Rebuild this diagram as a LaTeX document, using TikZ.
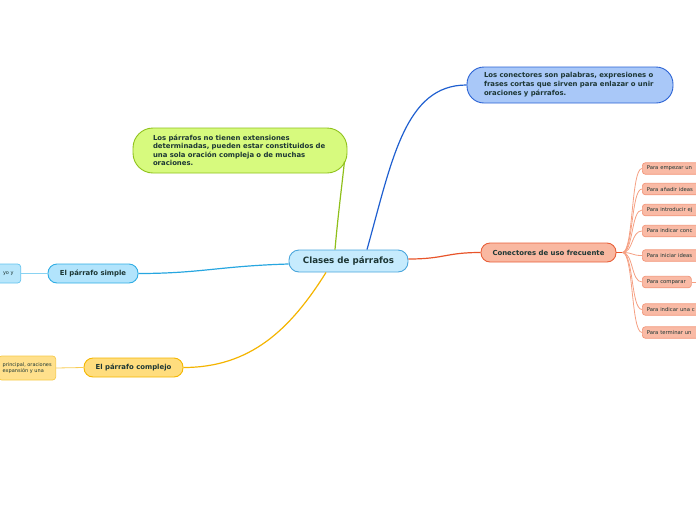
\documentclass[tikz,border=0pt]{standalone}
\usepackage{fontspec}
\setmainfont{DejaVu Sans}
\definecolor{txtc}{HTML}{1C3634}
\definecolor{cfill}{HTML}{C6EBFD}
\definecolor{cdraw}{HTML}{4AA6DC}
\definecolor{bfill}{HTML}{A9C8F8}
\definecolor{bdraw}{HTML}{2A62D4}
\definecolor{gfill}{HTML}{D7FA7E}
\definecolor{gdraw}{HTML}{8FC21C}
\definecolor{kfill}{HTML}{F9B8A1}
\definecolor{kdraw}{HTML}{E8603A}
\definecolor{lfill}{HTML}{F9BAA5}
\definecolor{ldraw}{HTML}{F2967A}
\definecolor{sfill}{HTML}{B2E4FC}
\definecolor{sdraw}{HTML}{2FADE4}
\definecolor{slfill}{HTML}{B8E6FB}
\definecolor{sldraw}{HTML}{62C3EE}
\definecolor{pfill}{HTML}{FFDD7E}
\definecolor{pdraw}{HTML}{F4B600}
\definecolor{plfill}{HTML}{FFE08C}
\definecolor{pldraw}{HTML}{F6CA4A}
\definecolor{bline}{HTML}{1F5FD0}
\definecolor{gline}{HTML}{8FBF1A}
\definecolor{kline}{HTML}{E8542A}
\definecolor{sline}{HTML}{27A6E0}
\definecolor{pline}{HTML}{F4B400}
\definecolor{lline}{HTML}{F5A083}
\definecolor{slline}{HTML}{8AD3F2}
\definecolor{plline}{HTML}{F8CC55}
\begin{document}
\begin{tikzpicture}[x=1pt,y=-1pt,
  box/.style={draw, rounded corners=#1, inner sep=0pt, line width=0.9pt, text=txtc,
    font=\bfseries\fontsize{6.9}{9}\selectfont},
  box/.default=9,
  leaf/.style={draw=ldraw, fill=lfill, rounded corners=3, line width=0.7pt, text=txtc,
    anchor=west, minimum height=11.5, inner ysep=0pt, inner xsep=4.5pt, align=left,
    font=\fontsize{5.3}{6}\selectfont},
  mainedge/.style={line width=1.2pt},
  leafedge/.style={line width=0.8pt, draw=lline}]
\useasboundingbox (0,0) rectangle (696,520);
\clip (0,0) rectangle (696,520);
% main nodes
\node[box=10, fill=cfill, draw=cdraw, minimum width=119, minimum height=22,
  font=\bfseries\fontsize{8.7}{10}\selectfont] (c) at (348.5,261) {Clases de párrafos};
\node[box=17, fill=bfill, draw=bdraw, minimum width=206, minimum height=36,
  text width=172, align=left] (b) at (570,85)
  {Los conectores son palabras, expresiones o\\frases cortas que sirven para enlazar o unir\\oraciones y párrafos.};
\node[box=20, fill=gfill, draw=gdraw, minimum width=214, minimum height=45,
  text width=174, align=left, font=\bfseries\fontsize{6.9}{8.5}\selectfont] (g) at (240,150.5)
  {Los párrafos no tienen extensiones\\determinadas, pueden estar constituidos de\\una sola oración compleja o de muchas\\oraciones.};
\node[box=9, fill=kfill, draw=kdraw, minimum width=135, minimum height=19] (k) at (548.5,252.5) {Conectores de uso frecuente};
\node[box=9, fill=sfill, draw=sdraw, minimum width=90, minimum height=19] (s) at (93,273.5) {El párrafo simple};
\node[box=9, fill=pfill, draw=pdraw, minimum width=99, minimum height=19] (p) at (133.5,367.5) {El párrafo complejo};
% left leaves
\node[draw=sldraw, fill=slfill, rounded corners=3, line width=0.7pt, text=txtc,
  anchor=east, minimum height=19, minimum width=40, inner xsep=7pt, inner ysep=0pt,
  align=right, text width=26, font=\fontsize{5}{6}\selectfont] (sl) at (21,273.5) {yo y\\[2pt]};
\node[draw=pldraw, fill=plfill, rounded corners=3, line width=0.7pt, text=txtc,
  anchor=east, minimum height=24, inner xsep=4pt, inner ysep=0pt, align=left,
  font=\fontsize{5}{6.5}\selectfont] (pl) at (56,368) {principal, oraciones\\expansión y una};
% right leaves
\node[leaf, minimum width=70, text width=61] (l1) at (642,168.5) {Para empezar un};
\node[leaf, minimum width=70, text width=61] (l2) at (642,189) {Para añadir ideas};
\node[leaf, minimum width=70, text width=61] (l3) at (642,210) {Para introducir ej};
\node[leaf, minimum width=70, text width=61] (l4) at (642,231) {Para indicar conc};
\node[leaf, minimum width=70, text width=61] (l5) at (642,255.5) {Para iniciar ideas};
\node[leaf, minimum width=49, text width=40] (l6) at (642,282) {Para comparar};
\node[leaf, minimum width=70, text width=61] (l7) at (642,309.5) {Para indicar una c};
\node[leaf, minimum width=70, text width=61] (l8) at (642,332.5) {Para terminar un};
% main edges
\draw[mainedge, bline] ([xshift=18.5pt]c.north) .. controls (392,160) and (405,85) .. (b.west);
\draw[mainedge, gline] ([xshift=-13.5pt]c.north) .. controls (338,215) and (342,185) .. ([xshift=-3pt,yshift=-11pt]g.east);
\draw[mainedge, kline] ([yshift=2pt]c.east) .. controls (445,259) and (445,252.5) .. (k.west);
\draw[mainedge, sline] ([yshift=-3pt]c.west) .. controls (220,266) and (200,273.5) .. (s.east);
\draw[mainedge, pline] ([xshift=-22.5pt]c.south) .. controls (290,330) and (250,367.5) .. (p.east);
% left leaf edges
\draw[line width=0.8pt, slline] (s.west) -- (sl.east);
\draw[line width=0.8pt, plline] (p.west) -- (pl.east);
% right leaf edges
\coordinate (kb) at ([xshift=6pt]k.east);
\coordinate (ce) at (700,282);
\draw[line width=1pt, kline] (k.east) -- (kb);
\foreach \n in {l1,l2,l3,l4,l5,l6,l7,l8}
  \draw[leafedge] (kb) .. controls +(11,0) and +(-11,0) .. (\n.west);
\draw[leafedge] (l6.east) -- (ce);
\end{tikzpicture}
\end{document}
